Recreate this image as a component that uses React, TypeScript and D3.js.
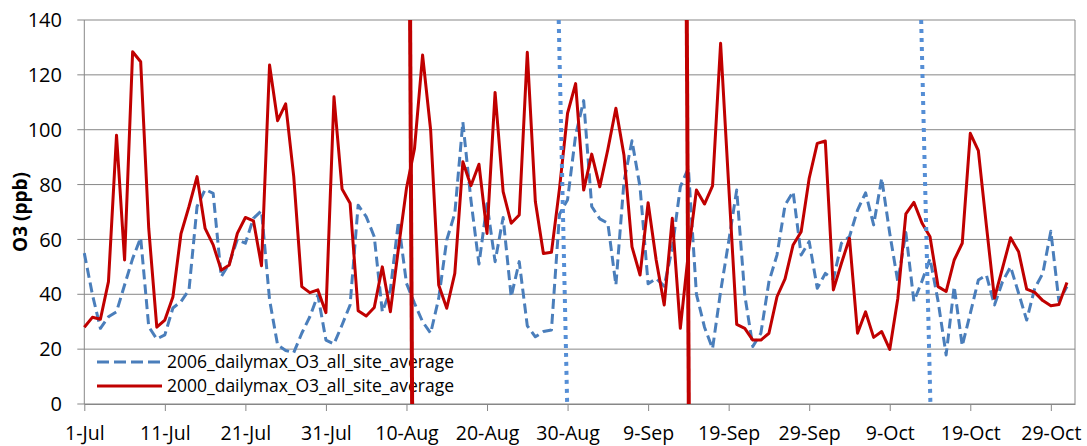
import React, { useRef, useEffect } from "react";
import * as d3 from "d3";

// days counted from 1-Jul; axis runs 1-Jul .. 1-Nov
const axisDays = 123;
const tickLabels = ["1-Jul", "11-Jul", "21-Jul", "31-Jul", "10-Aug", "20-Aug", "30-Aug", "9-Sep", "19-Sep", "29-Sep", "9-Oct", "19-Oct", "29-Oct"];
const yTicks = [0, 20, 40, 60, 80, 100, 120, 140];

const seriesNames = ["2006_dailymax_O3_all_site_average", "2000_dailymax_O3_all_site_average"];

// 1-Jul .. 31-Oct daily max O3 (ppb)
const o3_2006 = [
  55, 40, 27.6, 31.8, 33.6, 43.4, 53, 60.6, 28.2, 23.7,
  25.2, 35, 37.3, 41.6, 72, 78.2, 76.8, 46.4, 51.3, 60,
  58.6, 67.7, 70.5, 38, 21.5, 19.5, 18.7, 25.8, 31.8, 39.7,
  23.3, 21.9, 28.8, 36.1, 72.5, 68.3, 61, 33.6, 41.6, 66.5,
  44, 36.7, 30, 25.8, 38.5, 59.8, 69.5, 102.8, 74.4, 51,
  73, 51.9, 68, 39.1, 51.9, 28.5, 24.5, 26.4, 27, 69.2,
  74.5, 98, 110.6, 72, 67.5, 65.9, 43.4, 81, 96, 79,
  43.8, 45.8, 43, 56.8, 79.2, 86, 40, 28, 20.2, 41,
  59.2, 78, 39.7, 21, 25.8, 44.6, 54.3, 72.5, 77.4, 54.3,
  59.2, 42.2, 47.6, 45.5, 58.6, 61, 70.7, 77, 65.3, 82.3,
  62.2, 44.6, 62.5, 37.4, 44.8, 53, 37.5, 17.9, 42.8, 21.2,
  33, 45.2, 47, 36.1, 44.6, 50, 40.4, 30.6, 42.2, 47.6,
  63, 37.5, 42.8
];

const o3_2000 = [
  28, 31.6, 30.9, 44.6, 98, 52.5, 128.4, 124.8, 64, 28,
  30.6, 39, 62, 72, 82.9, 64, 58, 48.8, 50.7, 62.2,
  68, 66.8, 50.4, 123.6, 103.3, 109.4, 83, 42.8, 40.6, 41.6,
  33.3, 112, 78.4, 73.2, 34, 32.1, 35.2, 50, 33.6, 56.7,
  78.6, 93.2, 127.2, 99.9, 43.4, 34.9, 47.6, 88.3, 79.6, 87.4,
  62.2, 113.6, 77.4, 65.9, 68.9, 128.2, 73.8, 54.9, 55.3, 78.6,
  106, 116.8, 78, 91.1, 79.2, 92.8, 107.8, 90.8, 57.3, 47,
  73.4, 52.5, 36.1, 67.7, 27.6, 55, 78, 72.9, 79.5, 131.5,
  80, 29, 27.6, 23.3, 23.3, 25.8, 39.1, 45.6, 58, 62.8,
  82.3, 95, 95.9, 41.6, 51.3, 60.4, 25.8, 33.6, 24.3, 26.4,
  19.9, 38.5, 69.3, 73.5, 66, 61, 42.8, 41, 52.5, 58.6,
  98.7, 92.4, 65, 38.6, 49.5, 60.6, 55.5, 41.9, 40.7, 37.7,
  35.8, 36.3, 44.3
];

// marker lines: [day at top of plot, day at bottom of plot]
const blueMarkers = [[58.9, 59.95], [103.9, 105.05]];
const redMarkers = [[40.45, 40.7], [74.8, 75.05]];

const W = 1087;
const H = 446;
const BLUE = "#4a7ebb";
const BLUE_DOT = "#558ed5";
const RED = "#c00000";
const GRID = "#878787";

const App = () => {
  const ref = useRef(null);

  useEffect(() => {
    const svg = d3.select(ref.current);
    svg.selectAll("*").remove();

    const left = 84.3, right = 1075, top = 20, bottom = 404;

    const x = d3.scaleLinear().domain([0, axisDays]).range([left, right]);
    const y = d3.scaleLinear().domain([0, 140]).range([bottom, top]);

    // horizontal gridlines (run a little left of the axis like Excel tick marks)
    svg.append("g")
      .selectAll("line")
      .data(yTicks)
      .enter()
      .append("line")
      .attr("x1", left - 7)
      .attr("x2", right)
      .attr("y1", d => y(d))
      .attr("y2", d => y(d))
      .attr("stroke", GRID)
      .attr("stroke-width", 1);

    // plot border: left axis + right edge
    svg.append("line").attr("x1", left).attr("x2", left).attr("y1", top).attr("y2", bottom).attr("stroke", GRID);
    svg.append("line").attr("x1", right).attr("x2", right).attr("y1", top).attr("y2", bottom).attr("stroke", GRID);

    const xAxis = d3.axisBottom(x)
      .tickValues(d3.range(0, 121, 10))
      .tickFormat((d, i) => tickLabels[i])
      .tickSizeInner(7)
      .tickSizeOuter(0)
      .tickPadding(15);

    svg.append("g")
      .attr("transform", `translate(0,${bottom})`)
      .call(xAxis)
      .call(g => g.select(".domain").attr("stroke", GRID))
      .call(g => g.selectAll(".tick line").attr("stroke", GRID))
      .call(g => g.selectAll(".tick text")
        .attr("fill", "#000")
        .attr("font-family", "'Open Sans', sans-serif")
        .attr("font-size", 19.5));

    svg.append("g")
      .selectAll("text")
      .data(yTicks)
      .enter()
      .append("text")
      .attr("x", 62)
      .attr("y", d => y(d))
      .attr("dy", "0.36em")
      .attr("text-anchor", "end")
      .attr("font-family", "'Open Sans', sans-serif")
      .attr("font-size", 20)
      .text(d => d);

    svg.append("text")
      .attr("transform", `translate(27,${(top + bottom) / 2}) rotate(-90)`)
      .attr("text-anchor", "middle")
      .attr("font-family", "'Open Sans', sans-serif")
      .attr("font-weight", "bold")
      .attr("font-size", 19)
      .text("O3 (ppb)");

    const line = d3.line()
      .x((d, i) => x(i))
      .y(d => y(d));

    svg.append("path")
      .attr("d", line(o3_2006))
      .attr("fill", "none")
      .attr("stroke", BLUE)
      .attr("stroke-width", 3)
      .attr("stroke-dasharray", "10,5")
      .attr("stroke-linejoin", "round");

    svg.append("path")
      .attr("d", line(o3_2000))
      .attr("fill", "none")
      .attr("stroke", RED)
      .attr("stroke-width", 3)
      .attr("stroke-linejoin", "round");

    // legend
    const legend = svg.append("g");
    const rows = [
      { name: seriesNames[0], color: BLUE, dash: "12,5" },
      { name: seriesNames[1], color: RED, dash: null },
    ];
    rows.forEach((r, i) => {
      const ly = 362 + i * 24;
      legend.append("line")
        .attr("x1", 97).attr("x2", 162)
        .attr("y1", ly).attr("y2", ly)
        .attr("stroke", r.color)
        .attr("stroke-width", 3)
        .attr("stroke-dasharray", r.dash);
      legend.append("text")
        .attr("x", 167)
        .attr("y", ly)
        .attr("dy", "0.35em")
        .attr("font-family", "'Open Sans', sans-serif")
        .attr("font-size", 17.5)
        .text(r.name);
    });

    svg.append("g")
      .selectAll("line")
      .data(blueMarkers)
      .enter()
      .append("line")
      .attr("x1", d => x(d[0]))
      .attr("x2", d => x(d[1]))
      .attr("y1", y(140))
      .attr("y2", y(0))
      .attr("stroke", BLUE_DOT)
      .attr("stroke-width", 4)
      .attr("stroke-dasharray", "4,5");

    svg.append("g")
      .selectAll("line")
      .data(redMarkers)
      .enter()
      .append("line")
      .attr("x1", d => x(d[0]))
      .attr("x2", d => x(d[1]))
      .attr("y1", y(140))
      .attr("y2", y(0))
      .attr("stroke", RED)
      .attr("stroke-width", 4);
  }, []);

  return (
    <svg ref={ref} width={W} height={H}
      style={{ position: "absolute", left: 0, top: 0, background: "#fff" }} />
  );
};

export default App;
